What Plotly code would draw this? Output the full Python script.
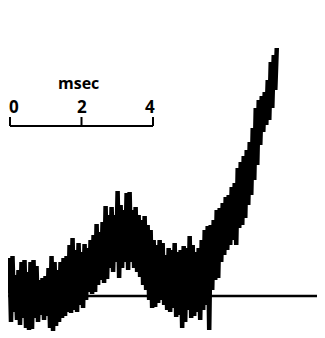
import plotly.graph_objects as go

# Recorded trace: time (msec) and membrane potential (arbitrary units, baseline = 0)
time_ms = [
    -0.056, -0.014, 0.028, 0.070, 0.112, 0.154, 0.196, 0.238, 0.280, 0.322,
    0.364, 0.406, 0.448, 0.490, 0.532, 0.574, 0.616, 0.658, 0.700, 0.742,
    0.784, 0.826, 0.868, 0.910, 0.952, 0.994, 1.036, 1.078, 1.120, 1.162,
    1.204, 1.246, 1.288, 1.330, 1.372, 1.414, 1.456, 1.498, 1.540, 1.582,
    1.624, 1.666, 1.708, 1.750, 1.792, 1.834, 1.876, 1.918, 1.960, 2.002,
    2.044, 2.086, 2.128, 2.170, 2.212, 2.254, 2.296, 2.338, 2.380, 2.422,
    2.464, 2.506, 2.548, 2.590, 2.632, 2.674, 2.716, 2.758, 2.800, 2.842,
    2.884, 2.926, 2.968, 3.010, 3.052, 3.094, 3.136, 3.178, 3.220, 3.262,
    3.304, 3.346, 3.388, 3.430, 3.472, 3.514, 3.556, 3.598, 3.640, 3.682,
    3.724, 3.766, 3.808, 3.850, 3.892, 3.934, 3.976, 4.018, 4.060, 4.102,
    4.144, 4.186, 4.228, 4.270, 4.312, 4.354, 4.396, 4.438, 4.480, 4.522,
    4.564, 4.606, 4.648, 4.690, 4.732, 4.774, 4.816, 4.858, 4.900, 4.942,
    4.984, 5.026, 5.068, 5.110, 5.152, 5.194, 5.236, 5.278, 5.320, 5.362,
    5.404, 5.446, 5.488, 5.530, 5.572, 5.614, 5.656, 5.698, 5.740, 5.782,
    5.824, 5.866, 5.908, 5.950, 5.992, 6.034, 6.076, 6.118, 6.160, 6.202,
    6.244, 6.286, 6.328, 6.370, 6.412, 6.454, 6.496, 6.538, 6.580, 6.622,
    6.664, 6.706, 6.748, 6.790, 6.832, 6.874, 6.916, 6.958, 7.000, 7.042,
    7.084, 7.126, 7.168, 7.210, 7.252, 7.294, 7.336, 7.378, 7.420, 7.462,
]

potential = [
    0.3, 3.8, -2.6, 4.0, -1.6, 2.1, -2.4, 2.6, -2.9, 3.4,
    -2.2, 3.6, -3.2, 2.4, -3.4, 3.4, -3.3, 3.6, -2.2, 3.0,
    -2.6, 1.6, -1.9, 1.8, -2.4, 2.0, -2.0, 2.8, -3.2, 4.0,
    -3.5, 3.4, -3.0, 2.6, -2.6, 3.4, -2.2, 3.8, -2.0, 4.0,
    -1.6, 5.1, -1.7, 5.8, -1.4, 4.6, -1.6, 5.3, -0.9, 4.4,
    -1.2, 5.2, -0.4, 4.8, 0.4, 5.6, 0.2, 6.1, 0.4, 7.2,
    1.1, 6.4, 1.6, 7.4, 1.3, 9.0, 1.7, 8.1, 2.8, 8.9,
    2.4, 8.1, 3.4, 10.5, 1.8, 9.1, 2.8, 8.6, 3.4, 10.3,
    2.6, 10.4, 3.4, 8.6, 2.8, 8.9, 2.4, 8.1, 1.9, 7.6,
    1.1, 8.0, 0.6, 7.1, -0.4, 6.6, -1.2, 5.6, -1.1, 5.1,
    -0.7, 5.6, -0.4, 5.3, -0.9, 4.1, -1.4, 4.8, -1.6, 4.6,
    -1.2, 5.3, -2.1, 4.4, -1.9, 4.6, -3.2, 5.0, -2.6, 4.8,
    -1.4, 6.0, -2.2, 5.1, -2.0, 4.4, -1.6, 4.8, -2.4, 5.6,
    -1.4, 6.6, -0.9, 7.0, -3.4, 7.1, 0.6, 7.6, 1.6, 8.6,
    1.8, 8.8, 3.4, 9.3, 4.1, 9.9, 4.6, 10.1, 5.1, 10.9,
    5.6, 11.3, 5.1, 12.8, 6.8, 13.4, 7.1, 14.0, 7.8, 14.6,
    9.1, 15.4, 10.1, 16.8, 11.6, 18.8, 13.1, 19.6, 15.1, 20.0,
    16.4, 20.4, 17.1, 21.6, 17.6, 23.4, 18.8, 24.1, 20.6, 24.8,
]

# Scale bar (msec)
scale_ticks = [0, 2, 4]
scale_labels = ["0", "2", "4"]
scale_unit = "msec"

fig = go.Figure()

# Baseline
fig.add_trace(go.Scatter(
    x=[-0.05, 8.9], y=[0, 0], mode="lines",
    line=dict(color="black", width=2.5), hoverinfo="skip", showlegend=False,
))

# Trace
fig.add_trace(go.Scatter(
    x=time_ms, y=potential, mode="lines",
    line=dict(color="black", width=4.5), hoverinfo="skip", showlegend=False,
))

# Scale bar
bar_y = 17.0
tick_top = 17.9
fig.add_shape(type="line", x0=scale_ticks[0], x1=scale_ticks[-1], y0=bar_y, y1=bar_y,
              xref="x", yref="y", line=dict(color="black", width=2))
for t in scale_ticks:
    fig.add_shape(type="line", x0=t, x1=t, y0=bar_y, y1=tick_top,
                  xref="x", yref="y", line=dict(color="black", width=2))

label_font = dict(family="Open Sans", size=17, color="black", weight="bold")
for t, lab in zip(scale_ticks, scale_labels):
    if t == scale_ticks[0]:
        # keep the first label inside the drawable area
        fig.add_annotation(x=0, y=19.0, text=lab, showarrow=False, xref="paper", yref="y",
                           font=label_font, xanchor="left", yanchor="middle", borderpad=0)
    elif t == scale_ticks[-1]:
        fig.add_annotation(x=t, y=19.0, text=lab, showarrow=False, xref="x", yref="y",
                           font=label_font, xanchor="center", yanchor="middle",
                           borderpad=0, xshift=-3)
    else:
        fig.add_annotation(x=t, y=19.0, text=lab, showarrow=False, xref="x", yref="y",
                           font=label_font, xanchor="center", yanchor="middle", borderpad=0)
fig.add_annotation(x=1.92, y=21.3, text=scale_unit, showarrow=False, xref="x", yref="y",
                   font=dict(family="Open Sans", size=16, color="black", weight="bold"),
                   xanchor="center", yanchor="middle", borderpad=0)

# The page body adds an 8 px offset, so the figure is 8 px smaller and ranges shifted
fig.update_layout(
    width=317, height=330,
    margin=dict(l=0, r=0, t=0, b=0),
    paper_bgcolor="white", plot_bgcolor="white",
    xaxis=dict(range=[-0.0559, 8.811], visible=False, fixedrange=True),
    yaxis=dict(range=[-4.2, 28.8], visible=False, fixedrange=True),
)

fig.write_html("out.html")
